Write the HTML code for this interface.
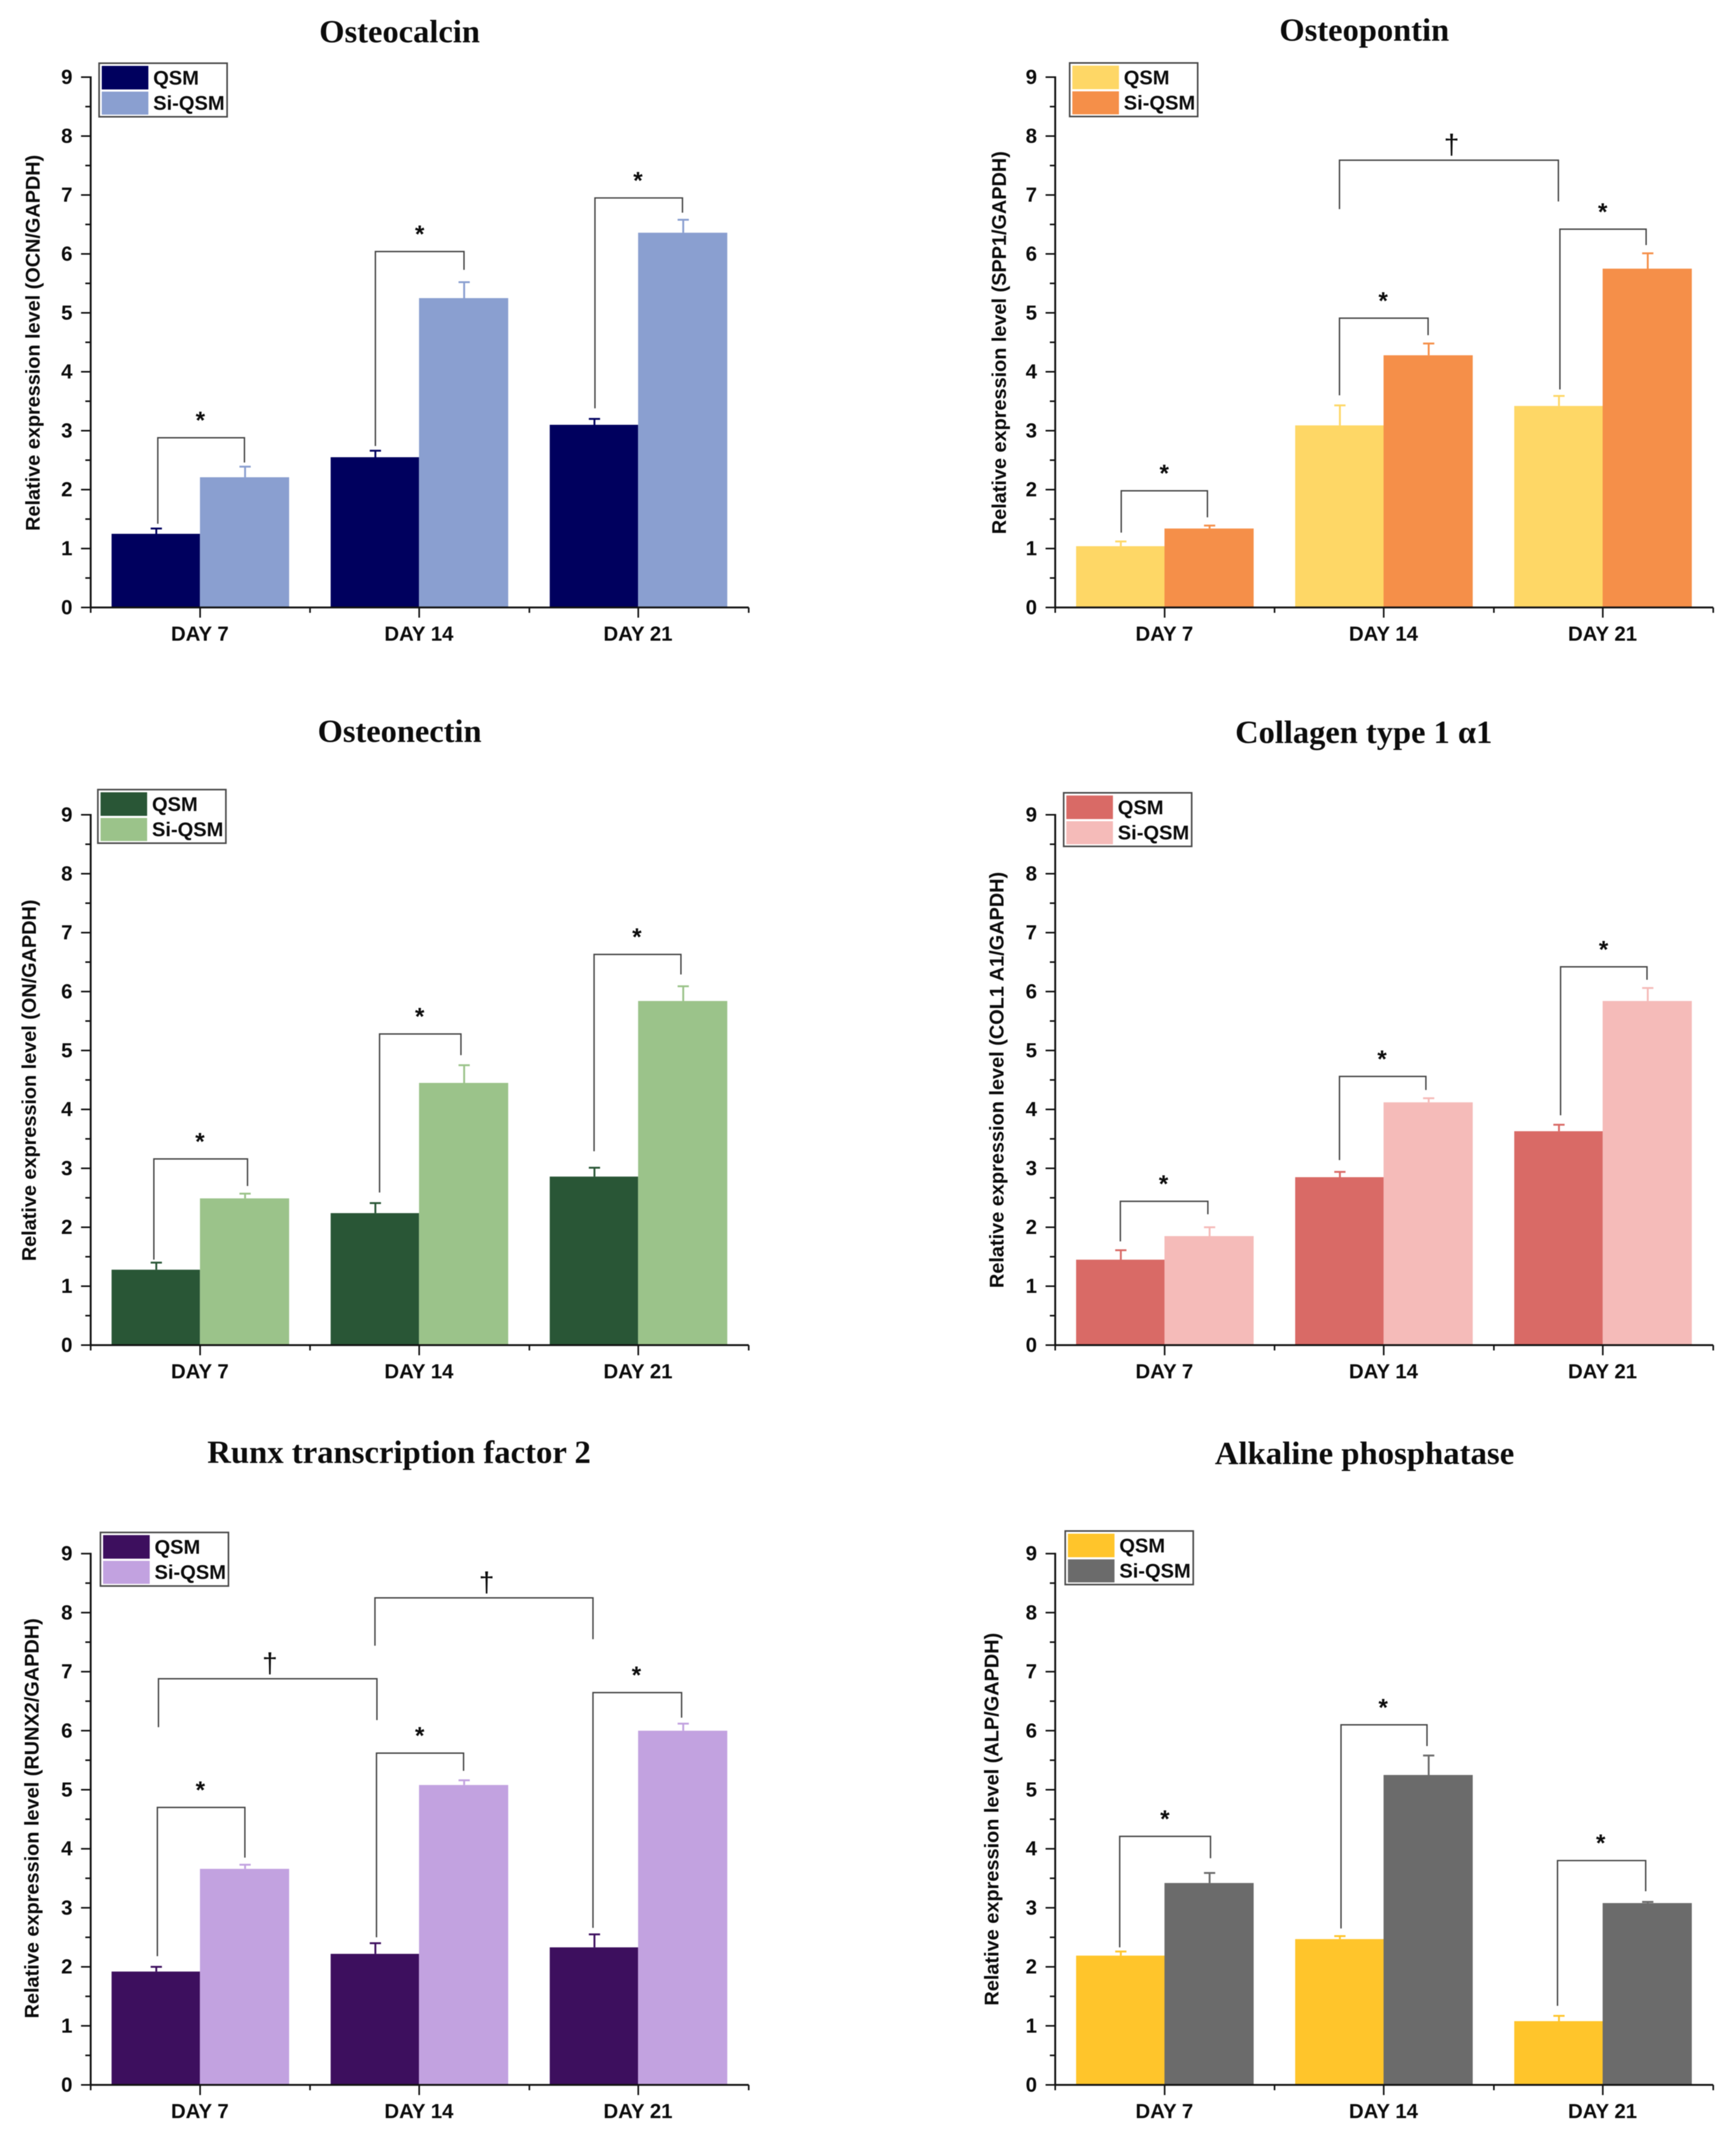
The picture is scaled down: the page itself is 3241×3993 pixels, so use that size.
<!DOCTYPE html>
<html lang="en">
<head>
<meta charset="utf-8">
<title>Relative gene expression of osteogenic markers</title>
<style>
html,body{margin:0;padding:0;background:#fff;}
svg{display:block;filter:blur(0.7px);}
text{font-family:"Liberation Sans",sans-serif;fill:#0c0c0c;}
.ttl{font-family:"Liberation Serif","DejaVu Serif",serif;font-weight:bold;font-size:60px;text-anchor:middle;}
.b{font-weight:bold;font-size:38px;}
</style>
</head>
<body>
<svg id="figure" xmlns="http://www.w3.org/2000/svg" width="3241" height="3993" viewBox="0 0 3241 3993">
<rect x="0" y="0" width="3241" height="3993" fill="#ffffff"/>
</svg>
<script>
// Shared axis data
const categories = ['DAY 7', 'DAY 14', 'DAY 21'];
const yTickLabels = [0, 1, 2, 3, 4, 5, 6, 7, 8, 9];
const seriesNames = ['QSM', 'Si-QSM'];

// Osteocalcin
const ocnQsm = [1.25, 2.55, 3.10];
const ocnSi = [2.21, 5.25, 6.36];
const ocnQsmErr = [0.09, 0.11, 0.10];
const ocnSiErr = [0.18, 0.27, 0.22];
const ocnSig = [[0.806, 1.201, 2.88, 1.42, 2.46, 1.0, '*'], [1.798, 2.202, 6.04, 2.74, 5.73, 2.0, '*'], [2.799, 3.198, 6.95, 3.38, 6.70, 2.995, '*']];

// Osteopontin
const sppQsm = [1.04, 3.09, 3.42];
const sppSi = [1.34, 4.28, 5.75];
const sppQsmErr = [0.08, 0.34, 0.17];
const sppSiErr = [0.05, 0.20, 0.26];
const sppSig = [[0.801, 1.194, 1.98, 1.27, 1.53, 0.997, '*'], [1.796, 2.20, 4.91, 3.60, 4.62, 1.995, '*'], [2.801, 3.194, 6.42, 3.70, 6.15, 2.996, '*'], [1.796, 2.794, 7.59, 6.76, 6.89, 2.307, '†']];

// Osteonectin
const onQsm = [1.28, 2.24, 2.86];
const onSi = [2.49, 4.45, 5.84];
const onQsmErr = [0.12, 0.17, 0.15];
const onSiErr = [0.08, 0.30, 0.25];
const onSig = [[0.788, 1.215, 3.16, 1.45, 2.70, 0.998, '*'], [1.817, 2.188, 5.28, 2.59, 4.92, 2.0, '*'], [2.795, 3.191, 6.63, 3.29, 6.29, 2.99, '*']];

// Collagen type 1 alpha 1
const colQsm = [1.45, 2.85, 3.63];
const colSi = [1.85, 4.12, 5.84];
const colQsmErr = [0.16, 0.09, 0.11];
const colSiErr = [0.15, 0.07, 0.22];
const colSig = [[0.797, 1.196, 2.44, 1.76, 2.22, 0.994, '*'], [1.796, 2.19, 4.56, 3.14, 4.33, 1.99, '*'], [2.804, 3.198, 6.42, 3.90, 6.20, 3.0, '*']];

// Runx transcription factor 2
const runxQsm = [1.92, 2.22, 2.33];
const runxSi = [3.66, 5.08, 6.00];
const runxQsmErr = [0.08, 0.18, 0.22];
const runxSiErr = [0.07, 0.08, 0.12];
const runxSig = [[0.804, 1.203, 4.70, 2.18, 3.85, 1.0, '*'], [1.803, 2.20, 5.62, 2.50, 5.32, 2.0, '*'], [2.79, 3.194, 6.645, 2.66, 6.22, 2.988, '*'], [0.809, 1.805, 6.88, 6.06, 6.18, 1.317, '†'], [1.796, 2.79, 8.25, 7.44, 7.55, 2.305, '†']];

// Alkaline phosphatase
const alpQsm = [2.19, 2.47, 1.08];
const alpSi = [3.42, 5.25, 3.08];
const alpQsmErr = [0.07, 0.05, 0.09];
const alpSiErr = [0.17, 0.33, 0.02];
const alpSig = [[0.794, 1.208, 4.21, 2.33, 3.84, 1.0, '*'], [1.803, 2.195, 6.10, 2.65, 5.74, 1.995, '*'], [2.79, 3.192, 3.80, 1.34, 3.28, 2.987, '*']];

const panels = [
  {id:'osteocalcin', title:'Osteocalcin', tx:746, ty:79, tl:300, ylabel:'Relative expression level (OCN/GAPDH)', lx:74, lc:640, ll:702,
   x0:169.3, y0:1134, unit:110, lgx:185, lgy:118, colors:['#00005e','#8a9fd0'], a:ocnQsm, b:ocnSi, ea:ocnQsmErr, eb:ocnSiErr, sig:ocnSig},
  {id:'osteopontin', title:'Osteopontin', tx:2547, ty:76, tl:317, ylabel:'Relative expression level (SPP1/GAPDH)', lx:1878, lc:639.7, ll:715,
   x0:1970, y0:1134, unit:110, lgx:1997, lgy:117.5, colors:['#fed766','#f58f49'], a:sppQsm, b:sppSi, ea:sppQsmErr, eb:sppSiErr, sig:sppSig},
  {id:'osteonectin', title:'Osteonectin', tx:746, ty:1385, tl:306, ylabel:'Relative expression level (ON/GAPDH)', lx:67, lc:2016.8, ll:675,
   x0:169.3, y0:2511, unit:110, lgx:182.7, lgy:1474, colors:['#295636','#9bc38a'], a:onQsm, b:onSi, ea:onQsmErr, eb:onSiErr, sig:onSig},
  {id:'collagen', title:'Collagen type 1 α1', tx:2546, ty:1387, tl:480, ylabel:'Relative expression level (COL1 A1/GAPDH)', lx:1873.6, lc:2016, ll:777,
   x0:1970, y0:2511, unit:110, lgx:1985.8, lgy:1480, colors:['#d96a66','#f5bbb9'], a:colQsm, b:colSi, ea:colQsmErr, eb:colSiErr, sig:colSig},
  {id:'runx2', title:'Runx transcription factor 2', tx:745, ty:2731, tl:716, ylabel:'Relative expression level (RUNX2/GAPDH)', lx:72, lc:3394.4, ll:747,
   x0:169.3, y0:3892, unit:110.2, lgx:187.5, lgy:2860.7, colors:['#3d0f5e','#c2a2e0'], a:runxQsm, b:runxSi, ea:runxQsmErr, eb:runxSiErr, sig:runxSig},
  {id:'alp', title:'Alkaline phosphatase', tx:2547.5, ty:2733, tl:559, ylabel:'Relative expression level (ALP/GAPDH)', lx:1864, lc:3396, ll:696,
   x0:1970, y0:3892, unit:110.2, lgx:1988.7, lgy:2858, colors:['#ffc52b','#6b6b6b'], a:alpQsm, b:alpSi, ea:alpQsmErr, eb:alpSiErr, sig:alpSig}
];

const NS = 'http://www.w3.org/2000/svg';
const svg = document.getElementById('figure');
const CAT_STEP = 409.5;
const BAR_STEP = 409;
const BAR_W_QSM = 165;
const BAR_W_SI = 166.5;
const AXIS_COLOR = '#111111';
const BRACKET_COLOR = '#454545';

function make(tag, attrs, parent, text) {
  const node = document.createElementNS(NS, tag);
  for (const k in attrs) node.setAttribute(k, attrs[k]);
  if (text !== undefined) node.textContent = text;
  parent.appendChild(node);
  return node;
}

panels.forEach(function (p) {
  // Axis functions: category units and value units to pixels
  const xAt = function (c) { return p.x0 + CAT_STEP / 2 + (c - 1) * CAT_STEP; };
  const barMid = function (i) { return p.x0 + 204 + i * BAR_STEP; };
  const yAt = function (v) { return p.y0 - v * p.unit; };

  const g = make('g', {}, svg);
  
  

  const title = make('text', {class:'ttl', x:p.tx, y:p.ty, textLength:p.tl, lengthAdjust:'spacingAndGlyphs'}, g, p.title);
  
  

  const yTitle = make('text', {class:'b', 'text-anchor':'middle', transform:'translate(' + p.lx + ',' + p.lc + ') rotate(-90)', textLength:p.ll, lengthAdjust:'spacingAndGlyphs', style:'font-size:37px'}, g, p.ylabel);
  
  

  // Bars and error bars
  [p.a, p.b].forEach(function (vals, s) {
    const errs = s === 0 ? p.ea : p.eb;
    vals.forEach(function (v, i) {
      const cx = barMid(i);
      const w = s === 0 ? BAR_W_QSM : BAR_W_SI;
      const left = s === 0 ? cx - w : cx;
      const mid = left + w / 2 + 1;
      const barTop = yAt(v);
      const errTop = yAt(v + errs[i]);

      const stem = make('line', {x1:mid, x2:mid, y1:barTop, y2:errTop, stroke:p.colors[s], 'stroke-width':3.5}, g);
      
      

      const cap = make('line', {x1:mid - 10.5, x2:mid + 10.5, y1:errTop, y2:errTop, stroke:p.colors[s], 'stroke-width':3.5}, g);
      
      

      const bar = make('rect', {x:left, y:barTop, width:w, height:p.y0 - barTop, fill:p.colors[s]}, g);
      
      
    });
  });

  // Y axis with major and minor ticks
  const yAxis = make('line', {x1:p.x0, x2:p.x0, y1:yAt(9) - 1.5, y2:p.y0 + 1.5, stroke:AXIS_COLOR, 'stroke-width':3.5}, g);
  
  

  yTickLabels.forEach(function (t) {
    const tick = make('line', {x1:p.x0 - 18, x2:p.x0, y1:yAt(t), y2:yAt(t), stroke:AXIS_COLOR, 'stroke-width':3}, g);
    
    

    const lab = make('text', {class:'b', x:p.x0 - 34, y:yAt(t) + 12.5, 'text-anchor':'end'}, g, String(t));
    
    

    if (t < 9) {
      const minor = make('line', {x1:p.x0 - 10, x2:p.x0, y1:yAt(t + 0.5), y2:yAt(t + 0.5), stroke:AXIS_COLOR, 'stroke-width':3}, g);
      
      
    }
  });

  // X axis with category ticks and boundary ticks
  const xAxis = make('line', {x1:p.x0, x2:p.x0 + categories.length * CAT_STEP, y1:p.y0, y2:p.y0, stroke:AXIS_COLOR, 'stroke-width':3.5}, g);
  
  

  categories.forEach(function (c, i) {
    const cx = barMid(i) + 0.3;
    const tick = make('line', {x1:cx, x2:cx, y1:p.y0, y2:p.y0 + 19, stroke:AXIS_COLOR, 'stroke-width':3}, g);
    
    

    const lab = make('text', {class:'b', x:cx - 0.5, y:p.y0 + 62, 'text-anchor':'middle'}, g, c);
    
    
  });

  for (let k = 0; k <= categories.length; k++) {
    const bx = p.x0 + k * CAT_STEP;
    const minor = make('line', {x1:bx, x2:bx, y1:p.y0, y2:p.y0 + 10, stroke:AXIS_COLOR, 'stroke-width':3}, g);
    
    
  }

  // Significance brackets
  p.sig.forEach(function (s) {
    const d = 'M' + xAt(s[0]) + ' ' + yAt(s[3]) + ' V' + yAt(s[2]) + ' H' + xAt(s[1]) + ' V' + yAt(s[4]);
    const br = make('path', {d:d, fill:'none', stroke:BRACKET_COLOR, 'stroke-width':2.6}, g);
    
    

    const isStar = s[6] === '*';
    const mark = make('text', {
      x:xAt(s[5]),
      y:yAt(s[2]) - (isStar ? 17 : 12),
      'text-anchor':'middle',
      style: isStar ? 'font-size:45px;font-weight:bold' : 'font-size:52px'
    }, g, s[6]);
    
    
  });

  // Legend
  const lg = make('g', {}, g);
  
  

  const box = make('rect', {x:p.lgx, y:p.lgy, width:239, height:100, fill:'#ffffff', stroke:'#4a4a4a', 'stroke-width':3}, lg);
  
  

  seriesNames.forEach(function (n, s) {
    const sw = make('rect', {x:p.lgx + 5, y:p.lgy + 5 + s * 48, width:87, height:s === 0 ? 44 : 43, fill:p.colors[s]}, lg);
    
    

    const lt = make('text', {class:'b', x:p.lgx + 101, y:p.lgy + 40 + s * 47, style:'font-size:37.5px'}, lg, n);
    
    
  });
});
</script>
</body>
</html>
